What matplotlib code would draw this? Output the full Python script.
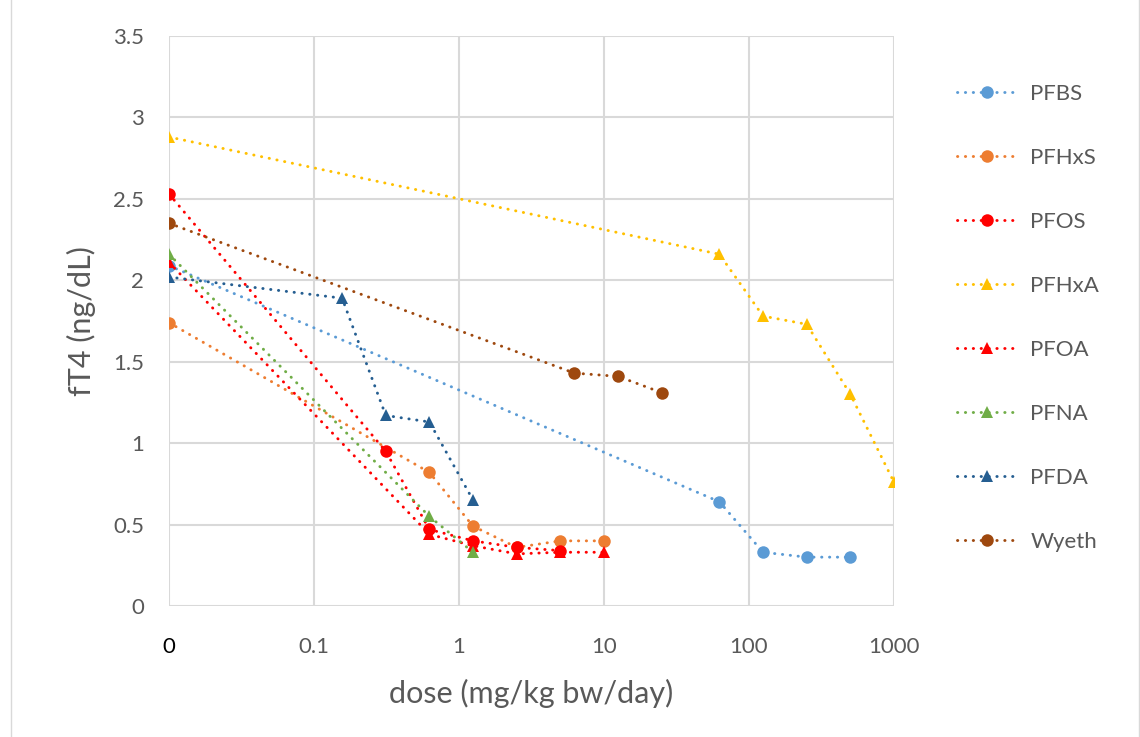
import matplotlib
matplotlib.use("Agg")
import matplotlib.pyplot as plt
from matplotlib.patches import Rectangle

# dose (mg/kg bw/day); control plotted at 0.01 (shown as "0")
pfbs_x = [0.01, 62.5, 125, 250, 500]
pfbs_y = [2.09, 0.64, 0.33, 0.30, 0.30]
pfhxs_x = [0.01, 0.625, 1.25, 2.5, 5, 10]
pfhxs_y = [1.74, 0.82, 0.49, 0.36, 0.40, 0.40]
pfos_x = [0.01, 0.3125, 0.625, 1.25, 2.5, 5]
pfos_y = [2.53, 0.95, 0.47, 0.40, 0.36, 0.34]
pfhxa_x = [0.01, 62.5, 125, 250, 500, 1000]
pfhxa_y = [2.88, 2.16, 1.78, 1.73, 1.30, 0.76]
pfoa_x = [0.01, 0.625, 1.25, 2.5, 5, 10]
pfoa_y = [2.11, 0.44, 0.37, 0.32, 0.33, 0.33]
pfna_x = [0.01, 0.625, 1.25]
pfna_y = [2.16, 0.55, 0.33]
pfda_x = [0.01, 0.15625, 0.3125, 0.625, 1.25]
pfda_y = [2.02, 1.89, 1.17, 1.13, 0.65]
wyeth_x = [0.01, 6.25, 12.5, 25]
wyeth_y = [2.35, 1.43, 1.41, 1.31]

series = [
    ("PFBS", pfbs_x, pfbs_y, "#5B9BD5", "o"),
    ("PFHxS", pfhxs_x, pfhxs_y, "#ED7D31", "o"),
    ("PFOS", pfos_x, pfos_y, "#FF0000", "o"),
    ("PFHxA", pfhxa_x, pfhxa_y, "#FFC000", "^"),
    ("PFOA", pfoa_x, pfoa_y, "#FF0000", "^"),
    ("PFNA", pfna_x, pfna_y, "#70AD47", "^"),
    ("PFDA", pfda_x, pfda_y, "#255E91", "^"),
    ("Wyeth", wyeth_x, wyeth_y, "#9E480E", "o"),
]

xticks = [0.01, 0.1, 1, 10, 100, 1000]
xtick_labels = ["0", "0.1", "1", "10", "100", "1000"]

plt.rcParams['font.family'] = ['Lato', 'DejaVu Sans']

fig = plt.figure(figsize=(11.4, 7.37), dpi=100)
ax = fig.add_axes([169/1140, 1 - 606/737, (894-169)/1140, (606-36)/737])

fig.patches.append(Rectangle((11/1140, -0.1), (1139-11)/1140, 1.2,
                             transform=fig.transFigure, fill=False,
                             edgecolor="#d9d9d9", lw=1))

for name, x, y, c, m in series:
    ax.plot(x, y, color=c, lw=2.1, linestyle=(0, (0.1, 2.6)),
            dash_capstyle='round', marker=m, markersize=9,
            markeredgewidth=0, label=name)

ax.set_xscale('log')
ax.set_xlim(0.01, 1000)
ax.set_ylim(0, 3.5)
ax.set_xticks(xticks)
ax.set_xticklabels(xtick_labels)
ax.minorticks_off()
ax.set_yticks([0, 0.5, 1, 1.5, 2, 2.5, 3, 3.5])
ax.set_yticklabels(["0", "0.5", "1", "1.5", "2", "2.5", "3", "3.5"])
ax.grid(True, color="#d9d9d9", lw=1.5)
ax.set_axisbelow(True)
for s in ax.spines.values():
    s.set_visible(False)
ax.tick_params(length=0, labelsize=16, labelcolor="#595959")
ax.tick_params(axis='x', pad=22)
ax.tick_params(axis='y', pad=18)
ax.get_xticklabels()[0].set_color("black")

ax.set_xlabel("dose (mg/kg bw/day)", fontsize=22, color="#595959", labelpad=16)
ax.set_ylabel("fT4 (ng/dL)", fontsize=22, color="#595959", labelpad=12)

fig.legend(loc='upper left', bbox_to_anchor=(937/1140, 1 - 64/737),
           frameon=False, fontsize=16, labelspacing=1.98, handlelength=2.7,
           handletextpad=0.6, labelcolor="#595959")

fig.savefig("out.png", dpi=100)
